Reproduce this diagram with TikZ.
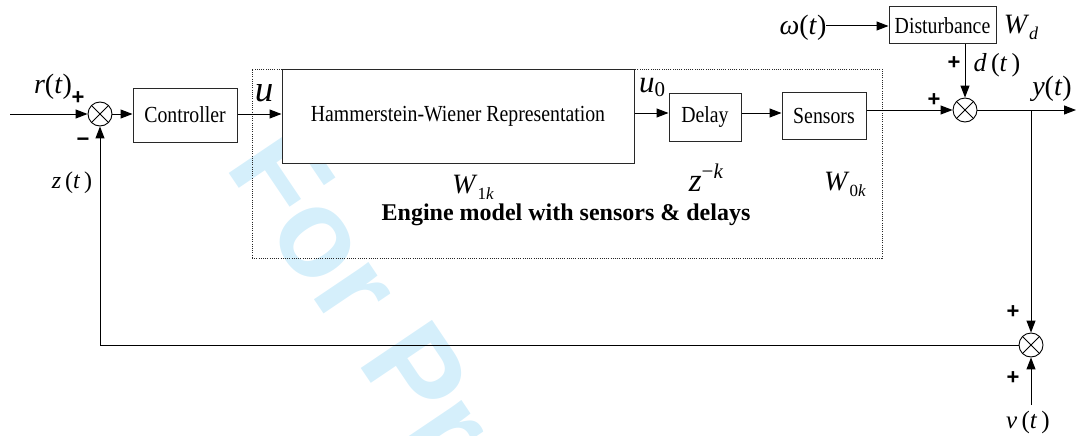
\documentclass[tikz,border=0pt]{standalone}
\usepackage{fontspec}
\setmainfont{Liberation Serif}
\newfontfamily\serifrm{Liberation Serif}
\newfontfamily\wmsans{Liberation Sans}
\usetikzlibrary{arrows.meta}
\newcommand\iv[1]{\textit{#1}\/}
\newcommand\fs[1]{\fontsize{#1}{#1}\selectfont}
\newcommand\cond[1]{\scalebox{0.86}[1]{#1}}
\definecolor{wmcyan}{RGB}{213,239,251}
\definecolor{boxgray}{RGB}{40,40,40}
\begin{document}
\serifrm
\begin{tikzpicture}[x=1pt,y=-1pt,
  every node/.style={font=\serifrm},
  blk/.style={draw=boxgray, line width=1pt, fill=white, inner sep=0pt, font=\serifrm\fs{23}},
  sumj/.style={draw, line width=0.9pt, circle, minimum size=24pt, inner sep=0pt, fill=white,
    path picture={\draw[line width=0.9pt] (path picture bounding box.north west) -- (path picture bounding box.south east)
      (path picture bounding box.north east) -- (path picture bounding box.south west);}},
  sig/.style={line width=1pt, -{Triangle[length=12pt,width=9pt]}},
  lbl/.style={inner sep=0pt},
  sgn/.style={inner sep=0pt, font=\wmsans\bfseries\fs{22}},
  wm/.style={inner sep=0pt, text=wmcyan, font=\wmsans\bfseries\fs{125}}
]
\useasboundingbox (0,0) rectangle (1076,436);
\begin{scope}
  \clip (0,0) rectangle (1076,436);
  \node[wm, rotate=-56, anchor=base west] (wmark) at (224,166) {For Pr};
\end{scope}

% dotted engine frame
\node[draw=boxgray, line width=0.8pt, dash pattern=on 1pt off 1.2pt, minimum width=630pt, minimum height=189pt, inner sep=0pt] (engine) at (567,163.5) {};

% blocks
\node[blk, minimum width=104pt, minimum height=54pt] (ctrl) at (185,115) {\cond{Controller}};
\node[blk, minimum width=352pt, minimum height=93pt] (hw) at (458,116.5) {\cond{Hammerstein-Wiener Representation}};
\node[blk, minimum width=72pt, minimum height=48pt] (delay) at (705,117) {\cond{Delay}};
\node[blk, minimum width=84pt, minimum height=47pt] (sens) at (824,115.5) {\cond{Sensors}};
\node[blk, minimum width=107pt, minimum height=37pt] (dist) at (942.5,25.5) {\cond{Disturbance}};

% junctions
\node[sumj] (s1) at (100,114) {};
\node[sumj] (s2) at (965,110) {};
\node[sumj] (s3) at (1031,345) {};

% free ends
\coordinate (rin) at (10,114);
\coordinate (yout) at (1076,110);
\coordinate (win) at (826,26);
\coordinate (vin) at (1031,405);
\coordinate (br) at (1031,110);

% connectors
\draw[sig] (rin) -- (s1.west);
\draw[sig] (s1.east) -- (ctrl.west |- s1.east);
\draw[sig] (ctrl.east |- s1.east) -- (hw.west |- s1.east);
\draw[sig] (hw.east |- 0,113) -- (delay.west |- 0,113);
\draw[sig] (delay.east |- 0,113) -- (sens.west |- 0,113);
\draw[sig] (sens.east |- s2.west) -- (s2.west);
\draw[sig] (s2.east) -- (yout);
\draw[sig] (win) -- (dist.west |- win);
\draw[sig] (s2 |- dist.south) -- (s2.north);
\draw[sig] (br) -- (s3.north);
\draw[sig] (vin) -- (s3.south);
\draw[sig] (s3.west) -- (s1 |- s3.west) -- (s1.south);

% labels
\node[lbl, font=\serifrm\fs{28}] (lr) at (53,87) {\iv{r}(\iv{t})};
\node[sgn] (p1) at (78,98) {+};
\node[sgn] (m1) at (83,142) {−};
\node[lbl, font=\serifrm\fs{24}] (lz) at (72,183) {\iv{z}\,(\iv{t}\,)};
\node[lbl, font=\serifrm\fs{37}] (lu) at (264,93) {\iv{u}};
\node[lbl, font=\serifrm\fs{31}] (lu0) at (652,87) {\iv{u}\raisebox{-4pt}{\fs{21}0}};
\node[lbl, font=\serifrm\fs{28}] (lw1) at (473,187) {\iv{W}\raisebox{-6pt}{\fs{17}1\iv{k}}};
\node[lbl, font=\serifrm\fs{33}] (lzk) at (706,178) {\iv{z}\raisebox{13pt}{\fs{21}−\iv{k}}};
\node[lbl, font=\serifrm\fs{28}] (lw0) at (845,184) {\iv{W}\raisebox{-6pt}{\fs{17}0\iv{k}}};
\node[lbl, font=\serifrm\bfseries\fs{24}] (lbold) at (566,215) {Engine model with sensors \& delays};
\node[lbl, font=\serifrm\fs{28}] (lom) at (803,28) {\iv{ω}(\iv{t})};
\node[lbl, font=\serifrm\fs{28}] (lwd) at (1021,27) {\iv{W}\raisebox{-6pt}{\fs{18}\iv{d}}};
\node[sgn] (p2) at (954,63) {+};
\node[lbl, font=\serifrm\fs{26}] (ld) at (997,65) {\iv{d}\,(\iv{t}\,)};
\node[sgn] (p3) at (934,100) {+};
\node[lbl, font=\serifrm\fs{28}] (ly) at (1052,89) {\iv{y}(\iv{t})};
\node[sgn] (p4) at (1013,312) {+};
\node[sgn] (p5) at (1013,378) {+};
\node[lbl, font=\serifrm\fs{25}] (lv) at (1028,422) {\iv{v}\,(\iv{t}\,)};
\end{tikzpicture}
\end{document}
